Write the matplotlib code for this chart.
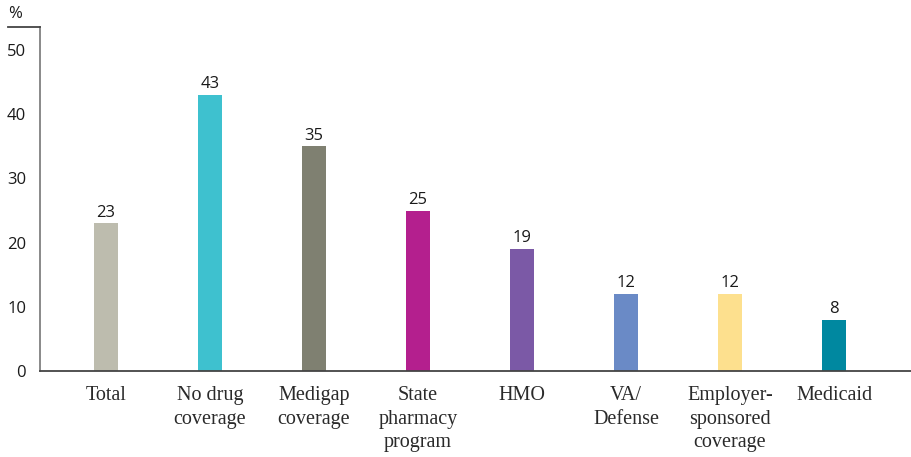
import matplotlib.pyplot as plt
from matplotlib.lines import Line2D

categories = ["Total", "No drug\ncoverage", "Medigap\ncoverage", "State\npharmacy\nprogram",
              "HMO", "VA/\nDefense", "Employer-\nsponsored\ncoverage", "Medicaid"]
values = [23, 43, 35, 25, 19, 12, 12, 8]
colors = ["#bdbcae", "#3ec1cf", "#7f8071", "#b41f8e", "#7b59a6", "#6a8ac6", "#fde08e", "#0088a0"]
yticks = [0, 10, 20, 30, 40, 50]

sans = "Open Sans"
serif = "Liberation Serif"

fig = plt.figure(figsize=(9.11, 4.57), dpi=100)
ax = fig.add_axes([40 / 911, 86 / 457, 1 - 40 / 911, (371 - 27) / 457])

x = range(len(values))
bars = ax.bar(x, values, width=0.226, color=colors, zorder=2)

for xi, v in zip(x, values):
    ax.annotate(str(v), (xi, v), xytext=(0, 2), textcoords="offset points",
                ha="center", va="bottom", fontsize=12, family=sans, color="#1a1a1a")

ax.set_xlim(-0.635, 7.74)
ax.set_ylim(0, 53.6)
ax.set_yticks(yticks)
ax.set_yticklabels([str(t) for t in yticks], family=sans, fontsize=12, color="#1a1a1a")
ax.tick_params(axis="y", length=0, pad=10)

ax.set_xticks(list(x))
ax.set_xticklabels(categories, family=serif, fontsize=14.5, color="#2a2a2a",
                   linespacing=1.32, va="top")
ax.tick_params(axis="x", length=0, pad=11)

for side in ["top", "right"]:
    ax.spines[side].set_visible(False)
ax.spines["left"].set_color("#808080")
ax.spines["left"].set_linewidth(1.3)
ax.spines["bottom"].set_color("#444444")
ax.spines["bottom"].set_linewidth(1.3)

# unit label with rule above the axis
fig.text(8 / 911, 1 - 14 / 457, "%", family=sans, fontsize=12, color="#1a1a1a",
         ha="left", va="center")
fig.add_artist(Line2D([8 / 911, 40 / 911], [1 - 27 / 457, 1 - 27 / 457],
                      color="#444444", linewidth=1.3))

fig.savefig("out.png", dpi=100)
